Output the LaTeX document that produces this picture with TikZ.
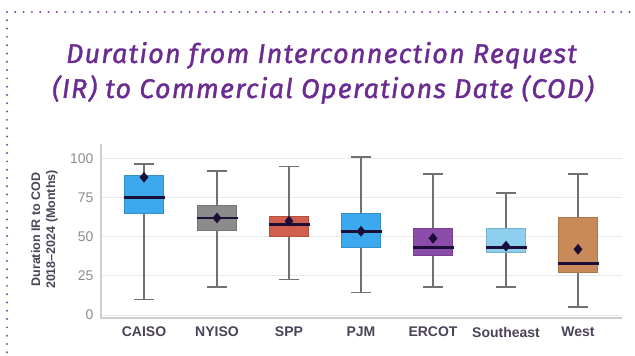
\documentclass[tikz,border=0pt]{standalone}
\usepackage{fontspec}
\setmainfont{Liberation Sans}
\newfontfamily\titlefont[FakeBold=1.3, LetterSpace=4.5]{Fira Sans}
\usetikzlibrary{shapes.geometric}

\definecolor{titlepurple}{HTML}{6B2C91}
\definecolor{dotpurple}{HTML}{7E45A6}
\definecolor{labelgray}{HTML}{4B4358}
\definecolor{tickgray}{HTML}{8C8C8C}
\definecolor{gridgray}{HTML}{E9E9E9}
\definecolor{axisgray}{HTML}{CFCFCF}
\definecolor{whiskergray}{HTML}{717171}
\definecolor{mediannavy}{HTML}{1B0F3A}
\definecolor{isoblue}{HTML}{3CA8EE}
\definecolor{isogray}{HTML}{8B8B8B}
\definecolor{sppred}{HTML}{D0604D}
\definecolor{ercotpurple}{HTML}{8C4CA9}
\definecolor{selightblue}{HTML}{8ECFF0}
\definecolor{westbrown}{HTML}{C98A5A}

\tikzstyle{gridline} = [draw=gridgray, line width=0.8pt]
\tikzstyle{axisline} = [draw=axisgray, line width=1.4pt]
\tikzstyle{whisker} = [draw=whiskergray, line width=1.4pt]
\tikzstyle{median} = [draw=mediannavy, line width=2.6pt]
\tikzstyle{mean} = [diamond, fill=mediannavy, inner sep=0pt, minimum width=9pt, minimum height=11pt]
\tikzstyle{ticklabel} = [anchor=east, text=tickgray, font=\fontsize{14}{14}\selectfont]
\tikzstyle{region} = [text=labelgray, font=\bfseries\fontsize{14}{14}\selectfont]
\tikzstyle{axistitle} = [text=labelgray, align=center, rotate=90, font=\bfseries\fontsize{12.5}{15}\selectfont]
\tikzstyle{charttitle} = [anchor=base, text=titlepurple, font=\titlefont\itshape\fontsize{27}{27}\selectfont]

% name, x, low, q1, median, q3, high, mean, colour
\newcommand{\regionbox}[9]{%
  \draw[whisker] (#2,#3) -- (#2,#7);
  \draw[whisker] (#2-10,#3) -- (#2+10,#3) (#2-10,#7) -- (#2+10,#7);
  \filldraw[fill=#9, draw=#9!85!black, line width=0.8pt] (#2-19.5,#4) rectangle (#2+19.5,#6);
  \draw[median] (#2-20.5,#5) -- (#2+20.5,#5);
  \node[mean] (#1-mean) at (#2,#8) {};
  \node[region] (#1) at (#2,-10.9) {#1};
}

\begin{document}
\begin{tikzpicture}[x=1pt, y=1pt]
  \useasboundingbox (0,0) rectangle (635,356);

  \foreach \i in {0,...,75}
    \fill[dotpurple] (7+\i*8.3,344) circle (1.1);
  \foreach \i in {1,...,41}
    \fill[dotpurple] (7,344-\i*8.3) circle (1.1);

  \node (title1) [charttitle] at (321.5,293) {Duration from Interconnection Request};
  \node (title2) [charttitle] at (323,258) {(IR) to Commercial Operations Date (COD)};

  \begin{scope}[yshift=41pt, y=1.565pt]
    \foreach \v in {0,25,...,100} {
      \draw[gridline] (101,\v) -- (622,\v);
      \node (tick\v) [ticklabel] at (97,\v) {\v};
    }
    \draw[axisline] (101,109) -- (101,-2) -- (622,-2);
    \node (ytitle) [axistitle] at (44.5,54.6) {Duration IR to COD\\2018--2024 (Months)};

    \regionbox{CAISO}{144}{10}{65}{75}{89}{96.5}{88}{isoblue}
    \regionbox{NYISO}{217}{18}{54}{62}{70}{92}{62}{isogray}
    \regionbox{SPP}{289}{22.5}{50.5}{58}{63}{95}{60}{sppred}
    \regionbox{PJM}{361}{14.5}{43}{53.5}{65}{101}{53.5}{isoblue}
    \regionbox{ERCOT}{433}{18}{38}{43}{55.5}{90}{49}{ercotpurple}
    \regionbox{Southeast}{506}{18}{40}{43}{55.5}{78}{44}{selightblue}
    \regionbox{West}{578}{5}{27}{33}{62.5}{90}{42}{westbrown}
  \end{scope}
\end{tikzpicture}
\end{document}
